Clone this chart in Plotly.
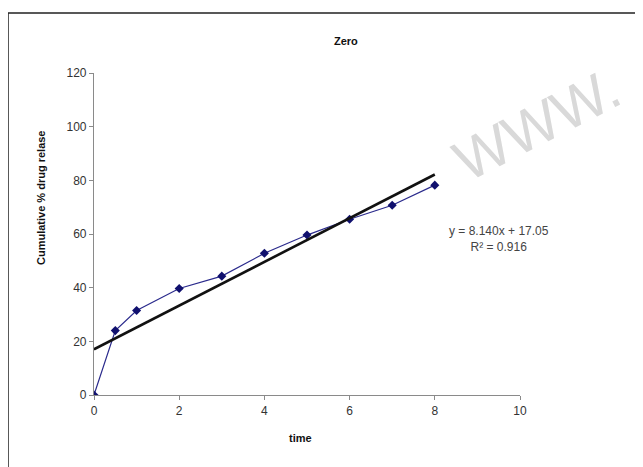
import numpy as np
import plotly.graph_objects as go

# Data
time = [0, 0.5, 1, 2, 3, 4, 5, 6, 7, 8]
release = [0, 24.0, 31.5, 39.7, 44.3, 52.8, 59.6, 65.5, 70.7, 78.2]
slope = 8.140
intercept = 17.05
r2 = 0.916
x_ticks = [0, 2, 4, 6, 8, 10]
y_ticks = [0, 20, 40, 60, 80, 100, 120]

trend_x = [min(time), max(time)]
trend_y = [slope * v + intercept for v in trend_x]

fig = go.Figure()
fig.add_trace(go.Scatter(
    x=time, y=release, mode="lines+markers",
    line=dict(color="#2a2a8c", width=1.2),
    marker=dict(symbol="diamond", size=7, color="#10106e"),
    showlegend=False, hoverinfo="skip"))
fig.add_trace(go.Scatter(
    x=trend_x, y=trend_y, mode="lines",
    line=dict(color="#111111", width=2.6),
    showlegend=False, hoverinfo="skip"))

OFF = 8  # page body margin
W, H = 643 - OFF, 467 - OFF
L, R, T, B = 94 - OFF, 520 - OFF, 73 - OFF, 395 - OFF
pw, ph = R - L, B - T

def px(xp):
    return (xp - OFF - L) / pw

def py(yp):
    return (B - (yp - OFF)) / ph

tick_font = dict(family="Liberation Sans, Arial", size=12, color="#333333")

fig.update_layout(
    width=W, height=H,
    margin=dict(l=L, r=W - R, t=T, b=H - B),
    paper_bgcolor="white", plot_bgcolor="white",
    xaxis=dict(range=[0, 10], tickvals=x_ticks, showgrid=False, zeroline=False,
               showline=True, linecolor="#8a8a8a", linewidth=1.2,
               ticks="outside", ticklen=4, tickcolor="#8a8a8a",
               tickfont=tick_font),
    yaxis=dict(range=[0, 120], tickvals=y_ticks, showgrid=False, zeroline=False,
               showline=True, linecolor="#8a8a8a", linewidth=1.2,
               ticks="outside", ticklen=4, tickcolor="#8a8a8a",
               tickfont=tick_font),
    shapes=[dict(type="rect", xref="paper", yref="paper",
                 x0=px(8), x1=px(700), y0=py(520), y1=py(13),
                 line=dict(color="#222222", width=1.5), fillcolor="rgba(0,0,0,0)",
                 layer="below")],
    annotations=[
        dict(text="WWW.", xref="paper", yref="paper", x=px(536), y=py(124),
             xanchor="center", yanchor="middle",
             showarrow=False, textangle=-27,
             font=dict(family="Liberation Sans, Arial", size=58, color="#d9d9d9")),
        dict(text="<b>Zero</b>", xref="paper", yref="paper", x=px(346), y=py(33),
             showarrow=False, font=dict(family="Liberation Sans, Arial", size=11, color="#111111")),
        dict(text="<b>Cumulative % drug relase</b>", xref="paper", yref="paper",
             x=px(33), y=py(198), showarrow=False, textangle=-90,
             font=dict(family="Liberation Sans, Arial", size=11, color="#111111")),
        dict(text="<b>time</b>", xref="paper", yref="paper", x=px(300), y=py(446),
             showarrow=False, font=dict(family="Liberation Sans, Arial", size=11, color="#111111")),
        dict(text=f"y = {slope:.3f}x + {intercept:.2f}<br>R² = {r2:.3f}",
             xref="paper", yref="paper", x=px(551), y=py(239), showarrow=False,
             align="center",
             font=dict(family="Liberation Sans, Arial", size=12, color="#444444")),
    ],
)

fig.write_html("out.html")
